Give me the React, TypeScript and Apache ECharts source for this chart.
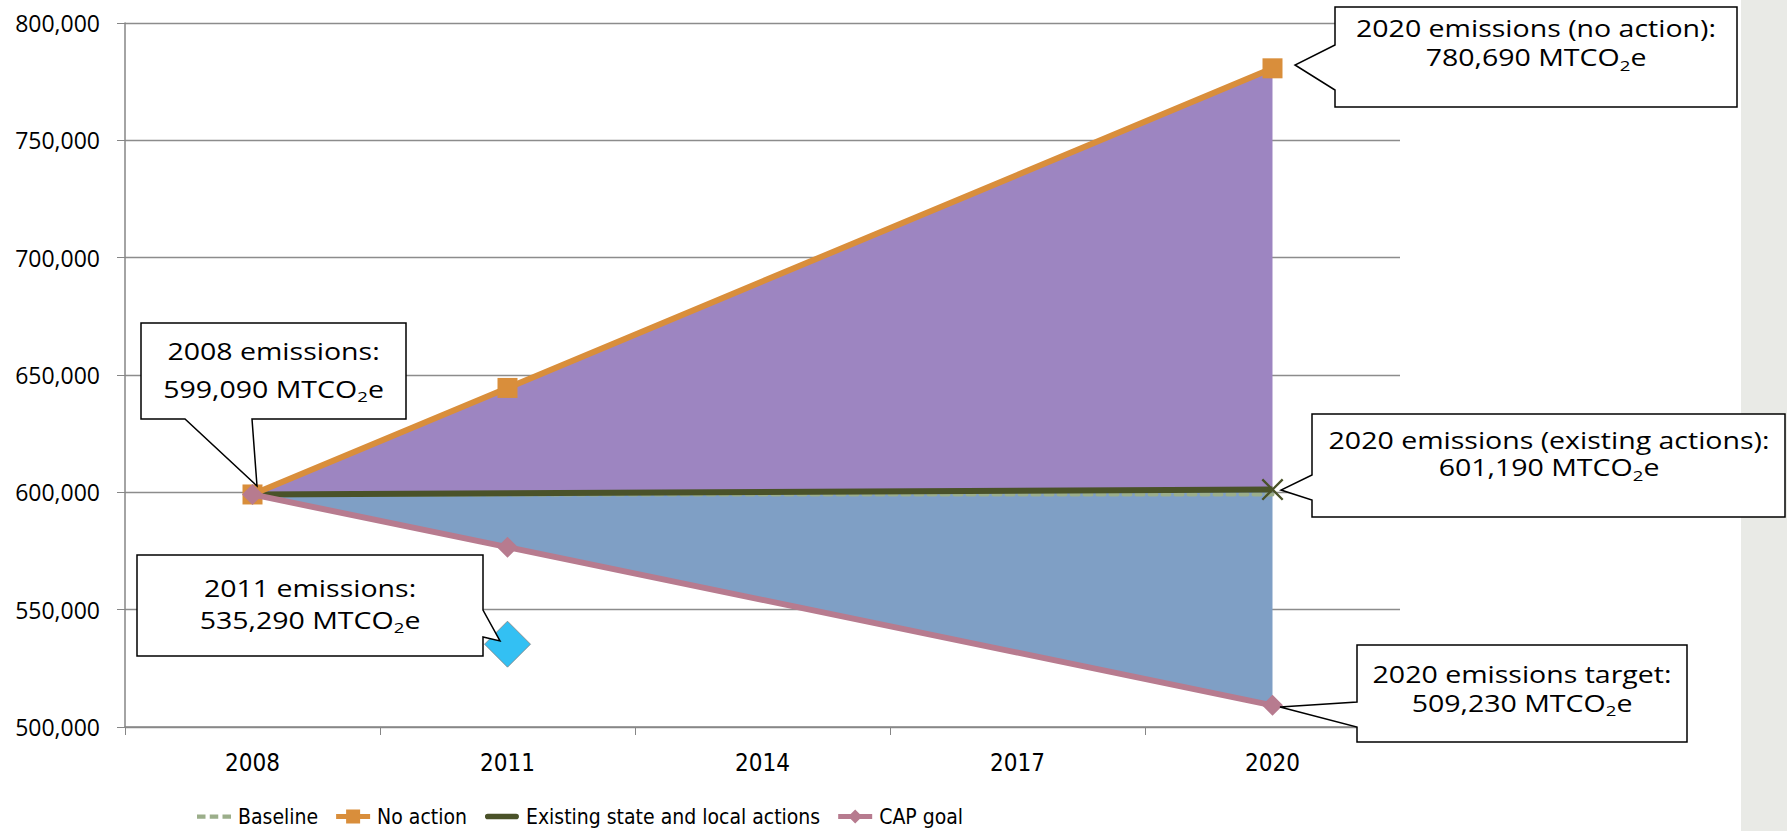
import React, { useEffect, useRef } from "react";
import * as echarts from "echarts";

// ---- data ----
const years = ["2008", "2011", "2014", "2017", "2020"];
const baseline = [599090, 599090, 599090, 599090, 599090];
const noAction = [599090, 644490, null, null, 780690];
const existingActions = [599090, null, null, null, 601190];
const capGoal = [599090, 576630, null, null, 509230];
const emissions2011 = [null, 535290, null, null, null];
const yMin = 500000;
const yMax = 800000;
const yStep = 50000;
const seriesNames = ["Baseline", "No action", "Existing state and local actions", "CAP goal"];
const calloutTitles = [
  "2020 emissions (no action):",
  "2020 emissions (existing actions):",
  "2020 emissions target:",
  "2008 emissions:",
  "2011 emissions:",
];
const calloutValues = ["780,690", "601,190", "509,230", "599,090", "535,290"];

// ---- layout (annotation boxes, pixel positions) ----
const CALLOUT_LAYOUT = [
  { pts: [[1335, 7], [1737, 7], [1737, 107], [1335, 107], [1335, 90], [1295, 65], [1335, 45]], cx: 1536, y1: 28, y2: 57.5 },
  { pts: [[1312, 414], [1785, 414], [1785, 517], [1312, 517], [1312, 500], [1281, 490], [1312, 475]], cx: 1549, y1: 440.5, y2: 467.5 },
  { pts: [[1357, 645], [1687, 645], [1687, 742], [1357, 742], [1357, 727], [1280, 707], [1357, 702]], cx: 1522, y1: 674, y2: 703 },
  { pts: [[141, 323], [406, 323], [406, 419], [252, 419], [257, 486], [185, 419], [141, 419]], cx: 273.5, y1: 351.5, y2: 389 },
  { pts: [[137, 555], [483, 555], [483, 610], [500, 641], [483, 637], [483, 656], [137, 656]], cx: 310, y1: 588, y2: 620 },
];

const CALLOUT_FONT = "'Open Sans', 'Noto Sans', sans-serif";
const NARROW_FONT = "'Liberation Sans Narrow', 'DejaVu Sans Condensed', 'Liberation Sans', sans-serif";

const X_SYMBOL =
  "path://M0,1.5L1.5,0L10,8.5L18.5,0L20,1.5L11.5,10L20,18.5L18.5,20L10,11.5L1.5,20L0,18.5L8.5,10Z";

// legend icons (34 x 14 boxes)
const LEGEND_ICONS = [
  "path://M1,0h8v4h-8z M13,0h8v4h-8z M25,0h8v4h-8z",
  "path://M0,4.5h34v5h-34z M10,0h14v14h-14z",
  "path://M2,0h30a3,3 0 0 1 0,6h-30a3,3 0 0 1 0,-6z",
  "path://M0,4.5h34v5h-34z M17,0L24,7L17,14L10,7Z",
];

export default function App() {
  const ref = useRef<HTMLDivElement>(null);

  useEffect(() => {
    const chart = echarts.init(ref.current!, null, { renderer: "svg" });

    const defined = (arr: (number | null)[]) =>
      arr.map((v, i) => (v == null ? null : [i, v])).filter(Boolean) as number[][];

    const band = (upper: (number | null)[], lower: (number | null)[], color: string) => ({
      type: "custom",
      silent: true,
      z: 1,
      coordinateSystem: "cartesian2d",
      data: [[0, upper[0]]],
      renderItem: (_params: any, api: any) => ({
        type: "polygon",
        shape: {
          points: [
            ...defined(upper).map((p) => api.coord(p)),
            ...defined(lower).map((p) => api.coord(p)).reverse(),
          ],
        },
        style: { fill: color },
      }),
    });

    const graphics: any[] = [
      { type: "rect", z: 0, shape: { x: 1741, y: 0, width: 46, height: 831 }, style: { fill: "#E9EAE6" } },
    ];
    CALLOUT_LAYOUT.forEach((c, i) => {
      graphics.push({
        type: "polygon",
        z: 10,
        shape: { points: c.pts },
        style: { fill: "#FFFFFF", stroke: "#000000", lineWidth: 1.5 },
      });
      graphics.push({
        type: "text",
        z: 11,
        x: c.cx,
        y: c.y1,
        scaleX: 1.24,
        style: {
          text: calloutTitles[i],
          x: 0,
          y: 0,
          align: "center",
          verticalAlign: "middle",
          fontSize: 23,
          fontFamily: CALLOUT_FONT,
          fill: "#000000",
        },
      });
      graphics.push({
        type: "text",
        z: 11,
        x: c.cx,
        y: c.y2,
        scaleX: 1.24,
        style: {
          text: calloutValues[i] + " MTCO{sub|2}e",
          x: 0,
          y: 0,
          align: "center",
          verticalAlign: "middle",
          fontSize: 23,
          lineHeight: 30,
          fontFamily: CALLOUT_FONT,
          fill: "#000000",
          rich: {
            sub: { fontSize: 15, lineHeight: 13, verticalAlign: "bottom", fontFamily: CALLOUT_FONT, fill: "#000000" },
          },
        },
      });
    });

    chart.setOption({
      animation: false,
      backgroundColor: "#FFFFFF",
      grid: { left: 125, right: 387, top: 23, bottom: 104, containLabel: false },
      legend: {
        data: seriesNames.map((name, i) => ({ name, icon: LEGEND_ICONS[i] })),
        left: 192,
        top: 801,
        itemWidth: 34,
        itemHeight: 14,
        itemGap: 18,
        symbolKeepAspect: true,
        textStyle: { fontSize: 21, fontFamily: NARROW_FONT, color: "#000000", padding: [0, 0, 0, 2] },
      },
      xAxis: {
        type: "category",
        data: years,
        boundaryGap: true,
        axisLine: { lineStyle: { color: "#868686", width: 1.5 } },
        axisTick: { show: true, interval: 0, length: 8, lineStyle: { color: "#868686" } },
        axisLabel: { interval: 0, fontSize: 24, fontFamily: NARROW_FONT, color: "#000000", margin: 24 },
        splitLine: { show: false },
      },
      yAxis: {
        type: "value",
        min: yMin,
        max: yMax,
        interval: yStep,
        axisLine: { show: true, lineStyle: { color: "#868686", width: 1.5 } },
        axisTick: { show: true, length: 8, lineStyle: { color: "#868686" } },
        axisLabel: {
          fontSize: 23,
          fontFamily: CALLOUT_FONT,
          color: "#000000",
          margin: 25,
          formatter: (v: number) => v.toLocaleString("en-US"),
        },
        splitLine: { show: true, lineStyle: { color: "#8C8C8C", width: 1.3 } },
      },
      series: [
        band(noAction, existingActions, "#9D85C1"),
        band(existingActions, capGoal, "#7F9FC5"),
        {
          name: "Baseline",
          type: "line",
          data: baseline,
          symbol: "none",
          z: 3,
          lineStyle: { color: "#9BAE8A", width: 4, type: [7, 6], cap: "round" },
          itemStyle: { color: "#9BAE8A" },
        },
        {
          name: "Existing state and local actions",
          type: "line",
          data: existingActions.map((v, i) =>
            i === existingActions.length - 1 && v != null ? { value: v, symbol: X_SYMBOL, symbolSize: 22 } : v
          ),
          connectNulls: true,
          symbol: "none",
          z: 4,
          lineStyle: { color: "#4A5229", width: 6 },
          itemStyle: { color: "#4A5229" },
        },
        {
          name: "No action",
          type: "line",
          data: noAction,
          connectNulls: true,
          symbol: "rect",
          symbolSize: 20,
          z: 5,
          lineStyle: { color: "#D98E3B", width: 6 },
          itemStyle: { color: "#D98E3B" },
        },
        {
          name: "CAP goal",
          type: "line",
          data: capGoal,
          connectNulls: true,
          symbol: "diamond",
          symbolSize: 21,
          z: 6,
          lineStyle: { color: "#B77B8F", width: 6 },
          itemStyle: { color: "#B77B8F" },
        },
        {
          name: "2011 emissions",
          type: "scatter",
          data: emissions2011,
          symbol: "diamond",
          symbolSize: 46,
          z: 7,
          itemStyle: { color: "#00B0F0", borderColor: "#7F7F7F", borderWidth: 1 },
        },
      ],
      graphic: graphics,
    });

    return () => chart.dispose();
  }, []);

  return <div ref={ref} style={{ position: "absolute", left: 0, top: 0, width: 1787, height: 831 }} />;
}
